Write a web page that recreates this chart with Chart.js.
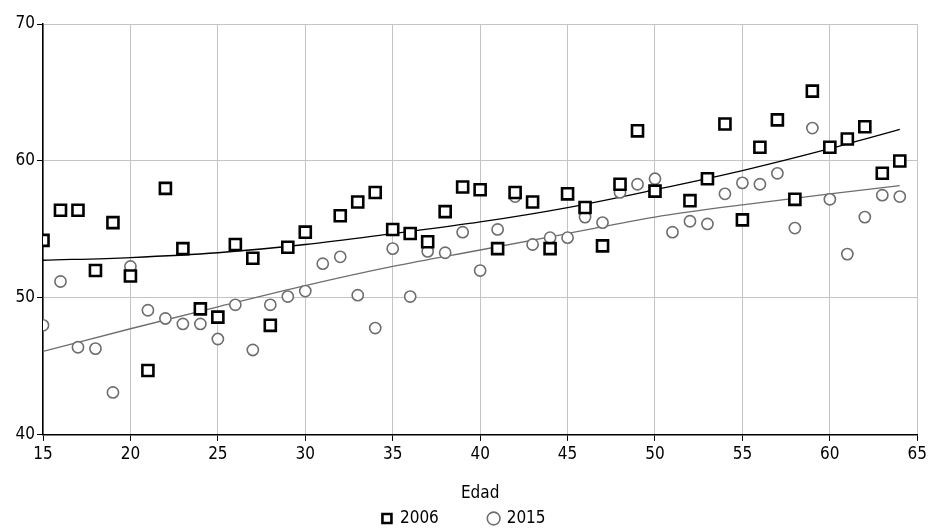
<!DOCTYPE html>
<html lang="es">
<head>
<meta charset="utf-8">
<title>Edad 2006 / 2015</title>
<script src="https://cdn.jsdelivr.net/npm/chart.js"></script>
<style>
  html, body { margin: 0; padding: 0; background: #fff; }
  #wrap { width: 930px; height: 530px; }
</style>
</head>
<body>
<div id="wrap"><canvas id="grafico" width="930" height="530"></canvas></div>
<script>
// valores
const edades2006 = [15,16,17,18,19,20,21,22,23,24,25,26,27,28,29,30,32,33,34,35,36,37,38,39,40,
                    41,42,43,44,45,46,47,48,49,50,52,53,54,55,56,57,58,59,60,61,62,63,64];
const valores2006 = [54.2,56.4,56.4,52.0,55.5,51.6,44.7,58.0,53.6,49.2,48.6,53.9,52.9,48.0,53.7,54.8,
                     56.0,57.0,57.7,55.0,54.7,54.1,56.3,58.1,57.9,53.6,57.7,57.0,53.6,57.6,56.6,53.8,
                     58.3,62.2,57.8,57.1,58.7,62.7,55.7,61.0,63.0,57.2,65.1,61.0,61.6,62.5,59.1,60.0];

const edades2015 = [15,16,17,18,19,20,21,22,23,24,25,26,27,28,29,30,31,32,33,34,35,36,37,38,39,
                    40,41,42,43,44,45,46,47,48,49,50,51,52,53,54,55,56,57,58,59,60,61,62,63,64];
const valores2015 = [48.0,51.2,46.4,46.3,43.1,52.3,49.1,48.5,48.1,48.1,47.0,49.5,46.2,49.5,50.1,50.5,
                     52.5,53.0,50.2,47.8,53.6,50.1,53.4,53.3,54.8,52.0,55.0,57.4,53.9,54.4,54.4,55.9,
                     55.5,57.7,58.3,58.7,54.8,55.6,55.4,57.6,58.4,58.3,59.1,55.1,62.4,57.2,53.2,55.9,
                     57.5,57.4];

const edadesTendencia = [15,20,25,30,35,40,45,50,55,60,64];
const tendencia2006 = [52.75,52.95,53.3,53.9,54.7,55.55,56.6,57.9,59.3,60.9,62.3];
const tendencia2015 = [46.1,47.75,49.35,50.9,52.3,53.5,54.7,55.9,56.8,57.6,58.2];

const ticksX = [15,20,25,30,35,40,45,50,55,60,65];
const ticksY = [40,50,60,70];

const fuente = "'Liberation Sans Narrow', 'DejaVu Sans Condensed', 'Roboto', sans-serif";
Chart.defaults.font.family = fuente;
Chart.defaults.color = '#000';

function puntos(xs, ys) {
  return xs.map((x, i) => ({ x: x, y: ys[i] }));
}

const ctx = document.getElementById('grafico').getContext('2d');
const grafico = new Chart(ctx, {
  type: 'scatter',
  data: {
    datasets: [
      {
        label: '2006',
        data: puntos(edades2006, valores2006),
        pointStyle: 'rect',
        pointRadius: 7.8,
        pointHoverRadius: 7.8,
        borderColor: '#000',
        backgroundColor: '#fff',
        borderWidth: 2.6
      },
      {
        label: '2015',
        data: puntos(edades2015, valores2015),
        pointStyle: 'circle',
        pointRadius: 5.6,
        pointHoverRadius: 5.6,
        borderColor: '#6e6e6e',
        backgroundColor: '#fff',
        borderWidth: 1.6
      },
      {
        label: 'tend2006',
        data: puntos(edadesTendencia, tendencia2006),
        showLine: true,
        pointRadius: 0,
        borderColor: '#000',
        borderWidth: 1.3,
        cubicInterpolationMode: 'monotone'
      },
      {
        label: 'tend2015',
        data: puntos(edadesTendencia, tendencia2015),
        showLine: true,
        pointRadius: 0,
        borderColor: '#6e6e6e',
        borderWidth: 1.3,
        cubicInterpolationMode: 'monotone'
      }
    ]
  },
  options: {
    responsive: false,
    animation: false,
    layout: { padding: { left: 6, right: 8, top: 24, bottom: -7 } },
    plugins: {
      tooltip: { enabled: false },
      legend: {
        position: 'bottom',
        labels: {
          usePointStyle: true,
          boxWidth: 9,
          boxHeight: 9,
          padding: 4.4,
          font: { size: 17 },
          filter: item => item.datasetIndex < 2,
          generateLabels: chart => {
            const items = Chart.defaults.plugins.legend.labels.generateLabels(chart);
            items.forEach(it => { if (it.datasetIndex === 0) it.text = it.text + '\u2003\u2003\u2003'; });
            return items;
          }
        }
      }
    },
    scales: {
      x: {
        type: 'linear',
        min: 15,
        max: 65,
        afterBuildTicks: s => { s.ticks = ticksX.map(v => ({ value: v })); },
        ticks: { font: { size: 17 }, padding: 3, maxRotation: 0 },
        grid: { color: '#c4c4c4', tickColor: '#000', tickLength: 6, lineWidth: 1 },
        border: { color: '#000', width: 1.5 },
        title: { display: true, text: 'Edad', font: { size: 17 }, padding: { top: 16.5, bottom: 1.4 } }
      },
      y: {
        type: 'linear',
        min: 40,
        max: 70,
        afterBuildTicks: s => { s.ticks = ticksY.map(v => ({ value: v })); },
        afterFit: s => { s.width = 37; },
        ticks: { font: { size: 17 }, padding: 2 },
        grid: { color: '#c4c4c4', tickColor: '#000', tickLength: 6, lineWidth: 1 },
        border: { color: '#000', width: 1.5 }
      }
    }
  }
});
</script>
</body>
</html>
